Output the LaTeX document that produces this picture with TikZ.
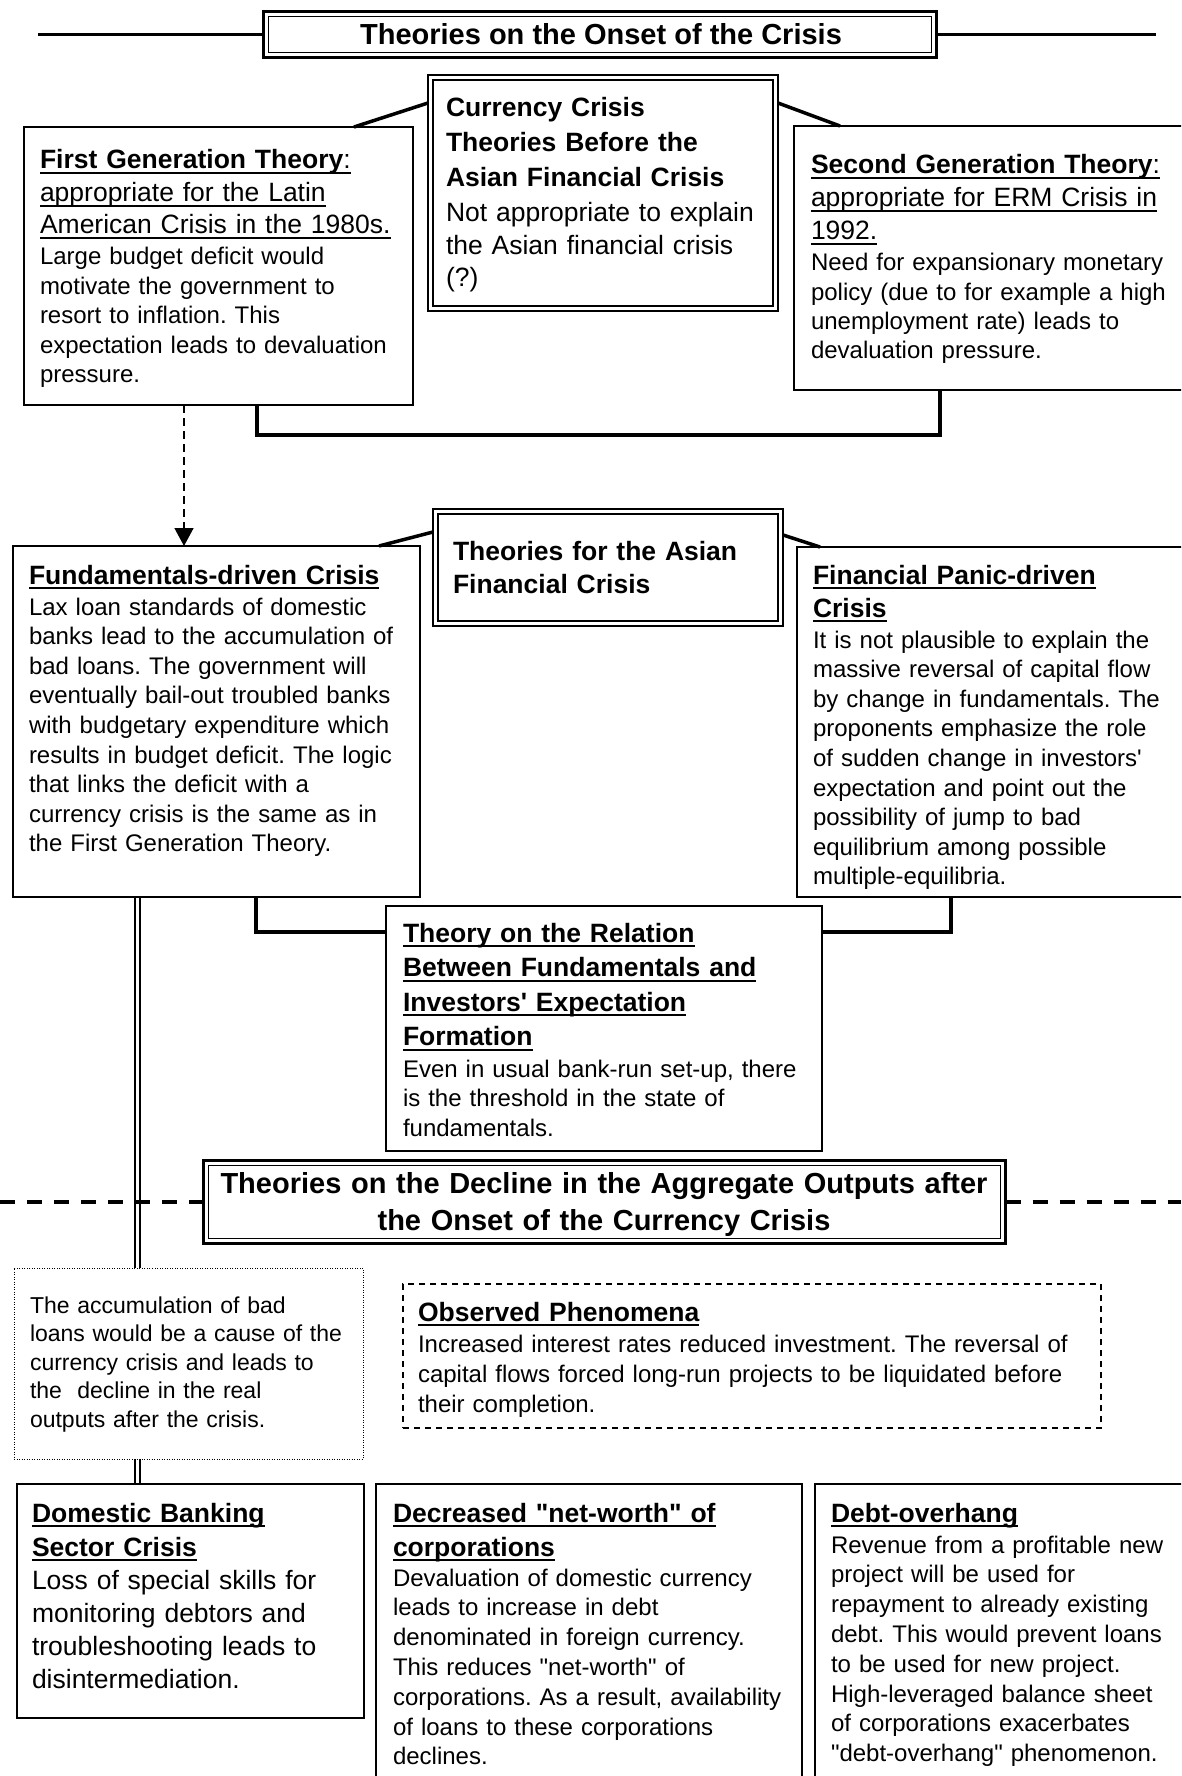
\documentclass[tikz,border=0pt]{standalone}
\usepackage{fontspec}
\setmainfont{Liberation Sans}
\usetikzlibrary{calc,arrows.meta}
\pgfdeclarelayer{bg}
\pgfsetlayers{bg,main}
\newcommand{\ulx}[1]{\leavevmode\setbox0\hbox{#1}\rlap{\rule[-0.19em]{\wd0}{0.075em}}\box0}
\newcommand{\qq}{\textquotedbl}
\tikzset{
  sbox/.style={draw, line width=1.5pt, anchor=north west, inner sep=0pt, outer sep=0pt, fill=white},
  dbox/.style={sbox, line width=2.7pt,
    path picture={\draw[line width=1.4pt]
      ([shift={(5pt,-5pt)}]path picture bounding box.north west) rectangle
      ([shift={(-5pt,5pt)}]path picture bounding box.south east);}},
  txt/.style={anchor=base west, inner sep=0pt, outer sep=0pt, align=left},
  hd/.style={font={\frenchspacing\fontsize{26.5}{#1}\selectfont\bfseries}},
  bd/.style={font={\frenchspacing\fontsize{24}{#1}\selectfont}},
  bl/.style={font={\frenchspacing\fontsize{26.5}{#1}\selectfont}},
  conn/.style={line width=3.5pt},
  brk/.style={line width=4pt},
  dline/.style={double, double distance=3pt, line width=2pt},
}
\begin{document}
\frenchspacing
\begin{tikzpicture}[x=1pt,y=-1pt]
\useasboundingbox (0,0) rectangle (1181,1776);
\clip (0,0) rectangle (1181,1776);

% ---------- Title 1
\node[dbox, minimum width=673pt, minimum height=46pt] (t1) at (263.5,11.5) {};
\node[font={\fontsize{29}{35}\selectfont\bfseries}, anchor=base, inner sep=0pt] (t1t) at (601,45) {Theories on the Onset of the Crisis};
\coordinate (t1l) at (38,34.5);
\coordinate (t1r) at (1156,34.5);
\draw[line width=3pt] (t1l) -- (t1.west);
\draw[line width=3pt] (t1.east) -- (t1r);

% ---------- Currency crisis box
\node[dbox, minimum width=350pt, minimum height=236pt] (cur) at (428,75) {};
\node[txt, hd=35, text width=320pt] (curh) at (446,117) {Currency Crisis\\Theories Before the\\Asian Financial Crisis};
\node[txt, bl=32.5, text width=320pt] (curb) at (446,222) {Not appropriate to explain\\the Asian financial crisis\\(?)};

% ---------- First generation
\node[sbox, minimum width=389pt, minimum height=278pt] (fg) at (24,127) {};
\node[txt, bl=32.5, text width=365pt] (fgh) at (40,169) {\ulx{\textbf{First Generation Theory}:}\\\ulx{appropriate for the Latin}\\\ulx{American Crisis in the 1980s.}};
\node[txt, bd=29.5, text width=365pt] (fgb) at (40,265) {Large budget deficit would\\motivate the government to\\resort to inflation. This\\expectation leads to devaluation\\pressure.};

% ---------- Second generation
\node[sbox, minimum width=420pt, minimum height=264pt] (sg) at (794,126) {};
\node[txt, bl=33, text width=365pt] (sgh) at (811,174) {\ulx{\textbf{Second Generation Theory}:}\\\ulx{appropriate for ERM Crisis in}\\\ulx{1992.}};
\node[txt, bd=29.3, text width=365pt] (sgb) at (811,271) {Need for expansionary monetary\\policy (due to for example a high\\unemployment rate) leads to\\devaluation pressure.};

\draw[conn] ($(cur.north west)+(0,28)$) -- ($(fg.north east)+(-59,0)$);
\draw[conn] ($(cur.north east)+(0,28)$) -- ($(sg.north west)+(46,0)$);
\draw[brk] ($(fg.south west)+(233,0)$) -- ++(0,30) -| ($(sg.south west)+(146,0)$);

% ---------- Fundamentals-driven
\node[sbox, minimum width=407pt, minimum height=351pt] (fund) at (13,546) {};
\node[txt, hd=33, text width=385pt] (fundh) at (29,584) {\ulx{Fundamentals-driven Crisis}};
\node[txt, bd=29.6, text width=385pt] (fundb) at (29,615) {Lax loan standards of domestic\\banks lead to the accumulation of\\bad loans. The government will\\eventually bail-out troubled banks\\with budgetary expenditure which\\results in budget deficit. The logic\\that links the deficit with a\\currency crisis is the same as in\\the First Generation Theory.};

\draw[line width=1.5pt, dash pattern=on 8pt off 5pt, -{Triangle[length=18pt,width=19pt]}] ($(fg.south west)+(160,0)$) -- ($(fund.north west)+(171,0)$);

% ---------- Theories for the Asian crisis
\node[dbox, minimum width=350pt, minimum height=117pt] (asia) at (433,509) {};
\node[txt, hd=33, text width=320pt] (asiat) at (453,560) {Theories for the Asian\\Financial Crisis};

% ---------- Financial panic
\node[sbox, minimum width=420pt, minimum height=350pt] (fp) at (797,547) {};
\node[txt, hd=33, text width=360pt] (fph) at (813,584) {\ulx{Financial Panic-driven}\\\ulx{Crisis}};
\node[txt, bd=29.6, text width=360pt] (fpb) at (813,648) {It is not plausible to explain the\\massive reversal of capital flow\\by change in fundamentals. The\\proponents emphasize the role\\of sudden change in investors\textquotesingle\\expectation and point out the\\possibility of jump to bad\\equilibrium among possible\\multiple-equilibria.};

\draw[conn] ($(asia.north west)+(0,23)$) -- ($(fund.north east)+(-41,0)$);
\draw[conn] ($(asia.north east)+(0,26)$) -- ($(fp.north west)+(23,0)$);

% ---------- Relation
\node[sbox, minimum width=436pt, minimum height=245pt] (rel) at (386,906) {};
\node[txt, hd=34.5, text width=410pt] (relh) at (403,942) {\ulx{Theory on the Relation}\\\ulx{Between Fundamentals and}\\\ulx{Investors\textquotesingle\ Expectation}\\\ulx{Formation}};
\node[txt, bd=29.5, text width=410pt] (relb) at (403,1077) {Even in usual bank-run set-up, there\\is the threshold in the state of\\fundamentals.};

\draw[brk] ($(fund.south west)+(243,0)$) |- ($(rel.north west)+(0,26)$);
\draw[brk] ($(fp.south west)+(154,0)$) |- ($(rel.north east)+(0,26)$);

% ---------- Title 2
\node[dbox, minimum width=802pt, minimum height=83pt] (t2) at (203.5,1160.5) {};
\node[font={\fontsize{29}{37}\selectfont\bfseries}, anchor=base, inner sep=0pt, align=center, text width=790pt] (t2t) at (604,1193) {Theories on the Decline in the Aggregate Outputs after\\the Onset of the Currency Crisis};
\coordinate (t2l) at (0,1202);
\coordinate (t2r) at (1181,1202);
\draw[line width=3.3pt, dash pattern=on 15pt off 12pt] (t2l) -- (t2.west);
\draw[line width=3.3pt, dash pattern=on 15pt off 12pt] (t2.east) -- (t2r);

% ---------- Accumulation (dotted)
\node[sbox, line width=1pt, dash pattern=on 1pt off 1.5pt, minimum width=349pt, minimum height=191pt] (acc) at (14,1268) {};
\node[txt, font={\frenchspacing\fontsize{23}{28.5}\selectfont}, text width=325pt] (acct) at (30,1313) {The accumulation of bad\\loans would be a cause of the\\currency crisis and leads to\\the\ \ decline in the real\\outputs after the crisis.};

% ---------- Observed phenomena (dashed)
\node[sbox, dash pattern=on 6pt off 5pt, minimum width=698pt, minimum height=144pt] (obs) at (403,1284) {};
\node[txt, hd=33, text width=670pt] (obsh) at (418,1321) {\ulx{Observed Phenomena}};
\node[txt, bd=30, text width=670pt] (obsb) at (418,1352) {Increased interest rates reduced investment. The reversal of\\capital flows forced long-run projects to be liquidated before\\their completion.};

% ---------- Bottom boxes
\node[sbox, minimum width=347pt, minimum height=234pt] (dom) at (17,1484) {};
\node[txt, hd=34, text width=320pt] (domh) at (32,1522) {\ulx{Domestic Banking}\\\ulx{Sector Crisis}};
\node[txt, bl=33, text width=320pt] (domb) at (32,1589) {Loss of special skills for\\monitoring debtors and\\troubleshooting leads to\\disintermediation.};

\node[sbox, minimum width=426pt, minimum height=330pt] (dec) at (376,1484) {};
\node[txt, hd=34, text width=400pt] (dech) at (393,1522) {\ulx{Decreased \qq net-worth\qq\ of}\\\ulx{corporations}};
\node[txt, bd=29.8, text width=400pt] (decb) at (393,1586) {Devaluation of domestic currency\\leads to increase in debt\\denominated in foreign currency.\\This reduces \qq net-worth\qq\ of\\corporations. As a result, availability\\of loans to these corporations\\declines.};

\node[sbox, minimum width=400pt, minimum height=330pt] (debt) at (815,1484) {};
\node[txt, hd=34, text width=340pt] (debth) at (831,1522) {\ulx{Debt-overhang}};
\node[txt, bd=29.8, text width=340pt] (debtb) at (831,1553) {Revenue from a profitable new\\project will be used for\\repayment to already existing\\debt. This would prevent loans\\to be used for new project.\\High-leveraged balance sheet\\of corporations exacerbates\\\qq debt-overhang\qq\ phenomenon.};

% ---------- Double line behind the dotted box
\begin{pgfonlayer}{bg}
\draw[dline] ($(fund.south west)+(124.5,0)$) -- ($(dom.north west)+(120.5,0)$);
\end{pgfonlayer}
\end{tikzpicture}
\end{document}
